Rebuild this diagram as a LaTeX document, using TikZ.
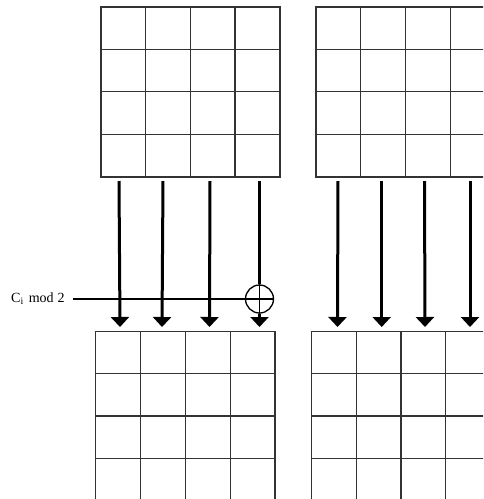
\documentclass[tikz,border=0pt]{standalone}
\usepackage{fontspec}
\setmainfont{Liberation Serif}
\usetikzlibrary{arrows.meta}
\begin{document}
\begin{tikzpicture}[x=1pt,y=-1pt,
  gridline/.style={line width=1.1pt, draw=black!80},
  flow/.style={line width=3pt, -{Triangle[width=18pt,length=10pt]}},
  plain/.style={line width=1.5pt},
  xorc/.style={circle, draw, line width=1.3pt, minimum size=28pt, inner sep=0pt}]
\useasboundingbox (0,0) rectangle (483,499);
\clip (0,0) rectangle (483,499);
% grids
\draw[gridline] (101,7) rectangle (280,177);
\foreach \x in {145.5,190.3,235} \draw[gridline] (\x,7) -- (\x,177);
\foreach \y in {49.3,91.7,134.3} \draw[gridline] (101,\y) -- (280,\y);
\draw[gridline] (316,7) rectangle (495,177);
\foreach \x in {360.7,405.3,450.3} \draw[gridline] (\x,7) -- (\x,177);
\foreach \y in {49.3,91.7,134.3} \draw[gridline] (316,\y) -- (495,\y);
\draw[gridline] (95.7,331.3) rectangle (275,501);
\foreach \x in {140.7,185.7,230.3} \draw[gridline] (\x,331.3) -- (\x,501);
\foreach \y in {373.3,416,458.3} \draw[gridline] (95.7,\y) -- (275,\y);
\draw[gridline] (311.3,331.3) rectangle (490,501);
\foreach \x in {356.3,401,445.7} \draw[gridline] (\x,331.3) -- (\x,501);
\foreach \y in {373.3,416,458.3} \draw[gridline] (311.3,\y) -- (490,\y);
% arrow endpoints
\foreach \n/\xa/\xb in {a/119/120, b/163/162, c/210/209.5, d/259.5/259.5,
                        e/338/337.5, f/381.7/381.7, g/424.5/425, h/470/470} {
  \coordinate (s\n) at (\xa,181);
  \coordinate (t\n) at (\xb,327);
}
\node[xorc] (xor) at (259.5,299) {};
\draw[line width=1.2pt] (xor.north) -- (xor.south) (xor.west) -- (xor.east);
\node[anchor=base west, font=\fontsize{14}{16}\selectfont, inner sep=0pt] (lab) at (11,302.5) {C\textsubscript{i}\hspace{5pt}mod\hspace{4pt}2};
\coordinate (l0) at (72.5,299);
\draw[plain] (l0) -- (xor.west);
\foreach \n in {a,b,c,e,f,g,h} \draw[flow] (s\n) -- (t\n);
\draw[line width=3pt] (sd) -- (xor.north);
\draw[flow] (xor.south) -- (td);
\end{tikzpicture}
\end{document}
